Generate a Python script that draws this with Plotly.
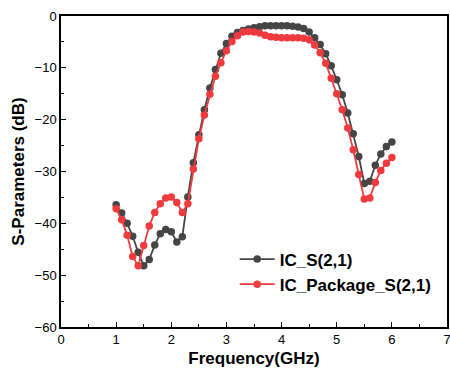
import plotly.graph_objects as go

freq = [round(1.0 + 0.1 * i, 1) for i in range(51)]

ic_s21 = [-36.4, -38.0, -40.0, -42.5, -45.6, -48.2, -47.0, -44.2, -42.0, -41.2,
          -41.6, -43.6, -42.6, -34.9, -28.3, -22.9, -18.1, -13.9, -10.3, -7.2,
          -5.3, -3.9, -3.2, -2.8, -2.5, -2.25, -2.05, -1.9, -1.9, -1.9,
          -1.9, -1.9, -2.0, -2.1, -2.4, -3.1, -4.2, -5.5, -7.3, -9.6,
          -12.3, -15.2, -18.7, -22.7, -27.1, -32.3, -31.9, -28.8, -26.6, -25.2,
          -24.3]

ic_pkg_s21 = [-37.2, -39.3, -42.3, -46.4, -48.2, -44.3, -40.5, -37.9, -36.2, -35.1,
              -34.9, -36.0, -37.9, -36.2, -29.5, -23.7, -19.1, -15.1, -11.6, -9.0,
              -6.7, -4.9, -3.8, -3.1, -3.0, -3.1, -3.3, -3.7, -4.0, -4.1,
              -4.2, -4.2, -4.2, -4.2, -4.3, -4.6, -5.6, -7.1, -9.1, -12.0,
              -15.0, -18.1, -21.6, -25.8, -30.6, -35.3, -35.1, -32.1, -29.8, -28.4,
              -27.3]

series_names = ["IC_S(2,1)", "IC_Package_S(2,1)"]
colors = ["#454545", "#f03a3e"]

fig = go.Figure()
for name, vals, col in zip(series_names, [ic_s21, ic_pkg_s21], colors):
    fig.add_trace(go.Scatter(
        x=freq, y=vals, name="<b>" + name + "</b>", mode="lines+markers",
        line=dict(color=col, width=1.8),
        marker=dict(color=col, size=7.5),
    ))

axis_common = dict(
    showline=True, linecolor="black", linewidth=1.5, mirror=True,
    ticks="inside", ticklen=5, tickwidth=1.2, tickcolor="black",
    showgrid=False, zeroline=False, automargin=False,
    ticklabeloverflow="allow",
    tickfont=dict(family="Liberation Sans, Arial", size=13, color="black"),
)

fig.update_layout(
    width=450, height=375,
    margin=dict(l=61, r=3, t=16, b=48),
    paper_bgcolor="white", plot_bgcolor="white",
    font=dict(family="Liberation Sans, Arial", color="black"),
    xaxis=dict(range=[0, 7], dtick=1,
               minor=dict(ticks="inside", ticklen=3, dtick=0.5, tickcolor="black"),
               title=dict(text="<b>Frequency(GHz)</b>", font=dict(size=17), standoff=6),
               **axis_common),
    yaxis=dict(range=[-60, 0], dtick=10,
               minor=dict(ticks="inside", ticklen=3, dtick=5, tickcolor="black"),
               title=dict(text="<b>S-Parameters (dB)</b>", font=dict(size=17), standoff=6),
               **axis_common),
    legend=dict(x=0.45, y=0.275, xanchor="left", yanchor="top",
                bgcolor="rgba(0,0,0,0)", borderwidth=0,
                font=dict(family="Liberation Sans, Arial", size=17, color="black"),
                tracegroupgap=0, itemwidth=35),
    showlegend=True,
)

fig.write_html("out.html", config={"displayModeBar": False},
               post_script="document.body.style.margin='0';")
